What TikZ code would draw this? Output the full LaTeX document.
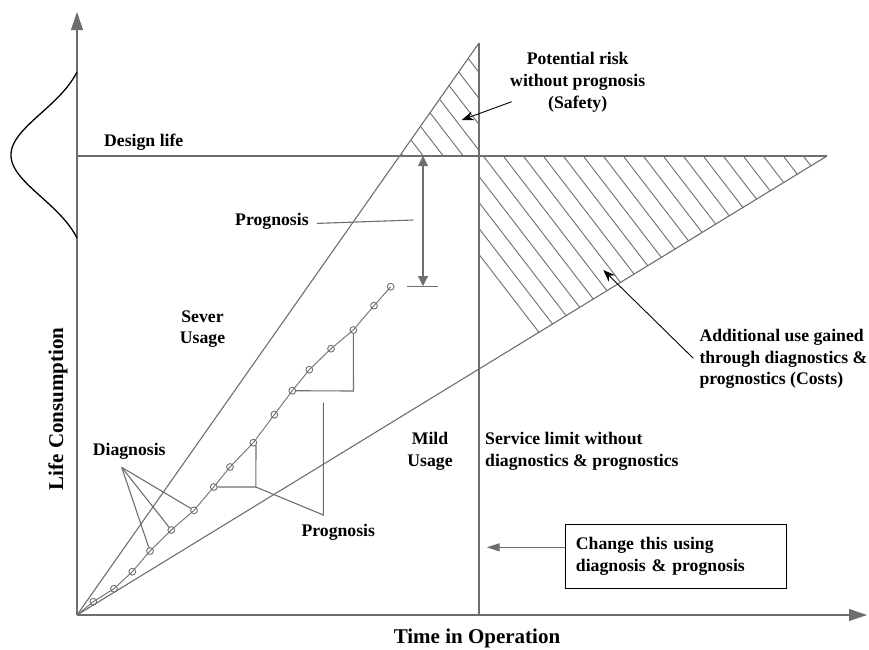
\documentclass[tikz,border=0pt]{standalone}
\usepackage{fontspec}
\setmainfont{Liberation Serif}
\usetikzlibrary{arrows.meta}
\definecolor{lc}{RGB}{110,110,110}
\begin{document}
\begin{tikzpicture}[x=1pt,y=-1pt,
  gl/.style={draw=lc,line width=1.1pt},
  hl/.style={draw=lc,line width=0.9pt},
  pt/.style={circle,draw=lc,line width=0.9pt,inner sep=0pt,minimum size=6.8pt},
  lbl/.style={font=\fontsize{17.7}{21.7}\selectfont\bfseries,inner sep=0pt},
  axlbl/.style={font=\fontsize{21}{25}\selectfont\bfseries,inner sep=0pt},
  barrow/.style={draw=black,line width=0.9pt,-{Stealth[length=12pt,width=9pt]}},
  gtri/.style={-{Triangle[length=#1]}},
]
\useasboundingbox (0,0) rectangle (869,649);

% key coordinates
\coordinate (o) at (77,615);
\coordinate (ytip) at (77,12);
\coordinate (xtip) at (867,615);
\coordinate (steeptop) at (479,43);
\coordinate (mildend) at (827,156);
\coordinate (dl0) at (77,156);
\coordinate (vbot) at (479,615);

% hatching
\begin{scope}
\clip (479,156) -- (827,156) -- (479,369) -- cycle
      (399.6,156) -- (479,43) -- (479,156) -- cycle;
\foreach \a in {403.3,423.3,...,843.3}
  \draw[hl] (\a-200,156-260) -- (\a+300,156+390);
\end{scope}

% main lines
\draw[gl] (dl0) -- (mildend);
\draw[gl] (o) -- (steeptop);
\draw[gl] (o) -- (mildend);
\draw[gl] (steeptop) -- (vbot);

% axes
\draw[gl,-{Triangle[length=18pt,width=12pt]}] (o) -- (ytip);
\draw[gl,-{Triangle[length=18pt,width=12pt]}] (o) -- (xtip);

% bell curve
\draw[black,line width=1.3pt] plot[domain=-83:83,samples=90]
  ({77-66*(exp(0-(\x*\x)/3528)-0.142)/0.858},{155+\x});

% data points
\node[pt] (c1) at (93.3,601.7) {};
\node[pt] (c2) at (114,588.7) {};
\node[pt] (c3) at (132.3,571.7) {};
\node[pt] (c4) at (150,551) {};
\node[pt] (c5) at (171.3,530) {};
\node[pt] (c6) at (194,510.3) {};
\node[pt] (c7) at (213.7,487) {};
\node[pt] (c8) at (230,467) {};
\node[pt] (c9) at (253.3,442.7) {};
\node[pt] (c10) at (274.3,414.7) {};
\node[pt] (c11) at (292.3,390.7) {};
\node[pt] (c12) at (309.3,369.7) {};
\node[pt] (c13) at (331,348.7) {};
\node[pt] (c14) at (353.3,330) {};
\node[pt] (c15) at (374,305.7) {};
\node[pt] (c16) at (390.7,286.7) {};
\draw[hl] (o) -- (c1.center) -- (c2.center) -- (c3.center) -- (c4.center)
  -- (c5.center) -- (c6.center) -- (c7.center) -- (c8.center) -- (c9.center)
  -- (c10.center) -- (c11.center) -- (c12.center) -- (c13.center)
  -- (c14.center) -- (c15.center) -- (c16.center);

% prognosis brackets
\coordinate (b1) at (255.8,487);
\coordinate (b2) at (353.5,391);
\draw[gl] (c7) -- (b1) -- (c9.south east);
\draw[gl] (c11) -- (b2) -- (c14.south);
\coordinate (pc1) at (323.3,515);
\coordinate (pc2) at (323.3,402.7);
\draw[gl] (b1) -- (pc1) -- (pc2);

% diagnosis
\node[lbl] (diag) at (129.2,451) {Diagnosis};
\coordinate (dapex) at (121.7,467.3);
\draw[gl] (dapex) -- (c4);
\draw[gl] (dapex) -- (c5);
\draw[gl] (dapex) -- (c6);

% prognosis labels
\node[lbl] (prog2) at (338.3,532.7) {Prognosis};
\node[lbl,anchor=west] (prog1) at (235,221.7) {Prognosis};
\coordinate (pgend) at (413.3,220);
\draw[gl] ([xshift=8pt,yshift=-1.7pt]prog1.east) -- (pgend);

% double arrow
\coordinate (da1) at (423,156);
\coordinate (da2) at (423,286);
\draw[gl,{Triangle[length=10pt,width=10pt]}-{Triangle[length=10pt,width=10pt]}] (da1) -- (da2);
\coordinate (tk1) at (406.7,286.3);
\coordinate (tk2) at (438.3,286.3);
\draw[gl] (tk1) -- (tk2);

% labels
\node[lbl,anchor=west] (design) at (104,142.7) {Design life};
\node[lbl,align=center] (sever) at (202.5,329) {Sever\\Usage};
\node[lbl,align=center] (mild) at (430,451) {Mild\\Usage};
\node[lbl,align=left,anchor=west] (svc) at (485,451) {Service limit without\\diagnostics \& prognostics};
\node[lbl,align=center] (risk) at (577.7,82.3) {Potential risk\\without prognosis\\(Safety)};
\node[lbl,align=left,anchor=west] (addl) at (699.3,359) {Additional use gained\\through diagnostics \&\\prognostics (Costs)};

% black arrows
\coordinate (ra1) at (511.7,101.7);
\coordinate (ra2) at (461.7,120);
\draw[barrow] (ra1) -- (ra2);
\coordinate (aa1) at (693.3,358.3);
\coordinate (aa2) at (603.3,270);
\draw[barrow] (aa1) -- (aa2);

% box
\node[lbl,draw=black,line width=0.9pt,align=left,text width=199.7pt,
  inner xsep=11pt,inner ysep=0pt,minimum height=64pt] (box) at (675.8,556.3)
  {Change this using\\diagnosis \& prognosis};
\coordinate (bxa) at (565,547.3);
\coordinate (bxb) at (486.7,547.3);
\draw[gl,-{Triangle[length=13pt,width=8pt]}] (bxa) -- (bxb);

% axis labels
\node[axlbl] (xlab) at (477,638) {Time in Operation};
\node[axlbl,rotate=90] (ylab) at (58,409) {Life Consumption};
\end{tikzpicture}
\end{document}
